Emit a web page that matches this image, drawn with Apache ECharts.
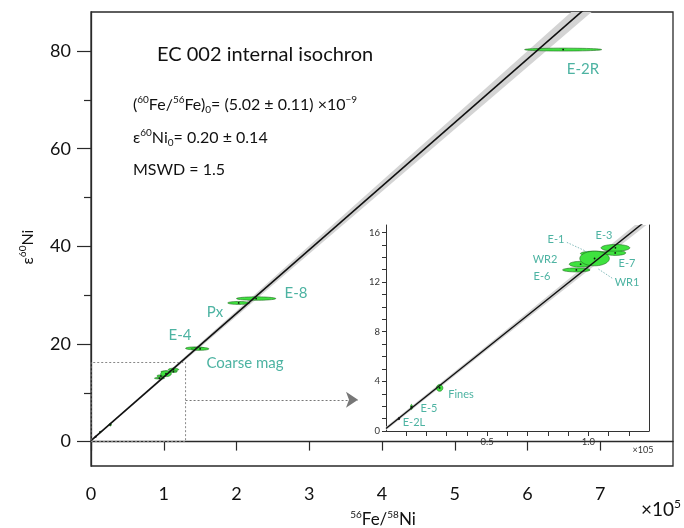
<!DOCTYPE html>
<html><head><meta charset="utf-8">
<script src="https://cdn.jsdelivr.net/npm/echarts@6/dist/echarts.min.js"></script>
<style>html,body{margin:0;padding:0;background:#fff}#c{width:684px;height:528px}</style>
</head><body><div id="c"></div>
<script>
// ---------- data (56Fe/58Ni in units of 1e5, epsilon60Ni) ----------
const sampleNames  = ['E-2R','E-8','Px','E-4','Coarse mag','E-6','WR2','E-1','WR1','E-7','E-3','Fines','E-5','E-2L'];
const fe56ni58     = [6.49, 2.27, 2.03, 1.43, 1.50, 0.941, 0.962, 1.031, 1.031, 1.133, 1.134, 0.265, 0.126, 0.064];
const eps60ni      = [80.3, 29.3, 28.4, 19.1, 19.0, 12.98, 13.44, 14.30, 13.90, 14.35, 14.76, 3.47, 1.94, 1.00];
const fe56ni58Err  = [0.53, 0.27, 0.15, 0.13, 0.12, 0.068, 0.056, 0.070, 0.073, 0.052, 0.071, 0.016, 0.005, 0.003];
const eps60niErr   = [0.30, 0.35, 0.30, 0.30, 0.30, 0.16, 0.23, 0.19, 0.59, 0.20, 0.27, 0.27, 0.20, 0.10];

// isochron fit line and its error envelope
const fitX      = [0, 7.3];
const fitY      = [0.2, 95.32];
const bandX     = [0, 1, 2, 3, 4, 5, 6, 7, 7.5];
const bandLow   = [0.06, 12.93, 25.70, 38.47, 51.23, 64.00, 76.75, 89.51, 95.90];
const bandHigh  = [0.34, 13.53, 26.82, 40.11, 53.41, 66.70, 80.01, 93.31, 99.96];
const insetBandX    = [0, 0.5, 1.0, 1.3];
const insetBandLow  = [0.06, 6.52, 12.93, 16.76];
const insetBandHigh = [0.34, 6.91, 13.53, 17.52];

// zoom box and arrow (data units of main plot)
const boxX = [0, 1.3, 1.3, 0, 0];
const boxY = [0, 0, 16.2, 16.2, 0];
const arrowX = [1.3, 3.67];
const arrowY = [8.57, 8.57];
// leader lines in inset
const leaderE1  = [[0.894, 15.2], [1.0, 14.4]];
const leaderWR1 = [[1.05, 13.05], [1.124, 12.25]];

// ticks
const xTicksMain  = [0, 1, 2, 3, 4, 5, 6, 7];
const yTicksMain  = [0, 20, 40, 60, 80];
const yMinorMain  = [10, 30, 50, 70];
const xTicksInset = [0.1, 0.2, 0.3, 0.4, 0.5, 0.6, 0.7, 0.8, 0.9, 1.0, 1.1, 1.2];
const xLabelsInset = [0.5, 1.0];
const yTicksInset = [0,1,2,3,4,5,6,7,8,9,10,11,12,13,14,15,16];
const yLabelsInset = [0, 4, 8, 12, 16];

// ---------- rendering ----------
const FONT = 'Lato';
const TEAL = '#4db3a2';
const chart = echarts.init(document.getElementById('c'), null, {renderer: 'canvas'});

const pts = sampleNames.map((n, i) => [fe56ni58[i], eps60ni[i], fe56ni58Err[i], eps60niErr[i], n === 'E-2L' ? 1 : 0]);

function ellipseItem(params, api) {
  const c = api.coord([api.value(0), api.value(1)]);
  const s = api.size([api.value(2), api.value(3)]);
  const rx = Math.max(s[0], 0.7), ry = Math.max(s[1], 0.7);
  const black = api.value(4) === 1;
  const poly = [];
  for (let k = 0; k < 48; k++) {
    const a = k / 48 * Math.PI * 2;
    poly.push([c[0] + rx * Math.cos(a), c[1] + ry * Math.sin(a)]);
  }
  return {type: 'group', children: [
    {type: 'polygon', shape: {points: poly},
     style: {fill: black ? '#111' : '#3fe23f', stroke: black ? '#111' : '#1f6a1f', lineWidth: 0.6}},
    {type: 'circle', shape: {cx: c[0], cy: c[1], r: 0.9}, style: {fill: '#111'}}
  ]};
}
function bandItem(xs, lo, hi) {
  return function (params, api) {
    if (params.dataIndex !== 0) return null;
    const p = [];
    for (let i = 0; i < xs.length; i++) p.push(api.coord([xs[i], hi[i]]));
    for (let i = xs.length - 1; i >= 0; i--) p.push(api.coord([xs[i], lo[i]]));
    return {type: 'polygon', shape: {points: p}, style: {fill: '#d4d4d4'}};
  };
}

const axisCol = '#2a2a2a';
const option = {
  animation: false,
  backgroundColor: '#fff',
  grid: [
    {left: 91, top: 12, width: 582, height: 454, show: true, borderColor: axisCol, borderWidth: 1.3, containLabel: false},
    {left: 386, top: 225, width: 263, height: 206, containLabel: false}
  ],
  xAxis: [
    {gridIndex: 0, type: 'value', min: 0, max: 8,
     axisLine: {show: true, lineStyle: {color: axisCol, width: 1.3}},
     axisTick: {show: true, customValues: xTicksMain, length: 9, lineStyle: {color: axisCol, width: 1.2}},
     axisLabel: {customValues: xTicksMain, fontSize: 18, fontFamily: FONT, color: '#111', margin: 19},
     splitLine: {show: false}},
    {gridIndex: 1, type: 'value', min: 0, max: 1.3,
     axisLine: {show: true, lineStyle: {color: '#333', width: 1}},
     axisTick: {show: true, customValues: xTicksInset, length: 5, lineStyle: {color: '#333', width: 1}},
     axisLabel: {customValues: xLabelsInset, formatter: v => v.toFixed(1), fontSize: 9.5, fontFamily: FONT, color: '#333', margin: 6},
     splitLine: {show: false}}
  ],
  yAxis: [
    {gridIndex: 0, type: 'value', min: -5, max: 88, position: 'left',
     axisLine: {show: true, lineStyle: {color: axisCol, width: 1.3}},
     axisTick: {show: true, customValues: yTicksMain, length: 14, lineStyle: {color: axisCol, width: 1.2}},
     axisLabel: {customValues: yTicksMain, fontSize: 18, fontFamily: FONT, color: '#111', margin: 20},
     splitLine: {show: false}},
    {gridIndex: 0, type: 'value', min: -5, max: 88, position: 'left',
     axisLine: {show: false},
     axisTick: {show: true, customValues: yMinorMain, length: 7, lineStyle: {color: axisCol, width: 1.2}},
     axisLabel: {show: false}, splitLine: {show: false}},
    {gridIndex: 1, type: 'value', min: 0, max: 16.6, position: 'left',
     axisLine: {show: true, lineStyle: {color: '#333', width: 1}},
     axisTick: {show: true, customValues: yTicksInset, length: 4, lineStyle: {color: '#333', width: 1}},
     axisLabel: {customValues: yLabelsInset, fontSize: 9.5, fontFamily: FONT, color: '#333', margin: 6},
     splitLine: {show: false}},
    {gridIndex: 1, type: 'value', min: 0, max: 16.6, position: 'right',
     axisLine: {show: true, lineStyle: {color: '#333', width: 1}},
     axisTick: {show: false}, axisLabel: {show: false}, splitLine: {show: false}}
  ],
  series: [
    // main plot
    {type: 'custom', xAxisIndex: 0, yAxisIndex: 0, clip: true, silent: true,
     data: bandX.map((x, i) => [x, bandLow[i], bandHigh[i]]), renderItem: bandItem(bandX, bandLow, bandHigh)},
    {type: 'line', xAxisIndex: 0, yAxisIndex: 0, clip: true, symbol: 'none', silent: true,
     data: fitX.map((x, i) => [x, fitY[i]]), lineStyle: {color: '#111', width: 1.6}},
    {type: 'line', xAxisIndex: 0, yAxisIndex: 0, symbol: 'none', silent: true,
     data: boxX.map((x, i) => [x, boxY[i]]), lineStyle: {color: '#888', width: 1, type: [2, 2]},
     markLine: {silent: true, symbol: ['none', 'arrow'], symbolSize: 12, label: {show: false},
       lineStyle: {color: '#777', width: 1, type: [2, 2]},
       data: [[{coord: [arrowX[0], arrowY[0]]}, {coord: [arrowX[1], arrowY[1]]}]]}},
    {type: 'custom', xAxisIndex: 0, yAxisIndex: 0, clip: true, silent: true, data: pts, renderItem: ellipseItem},
    // inset
    {type: 'custom', xAxisIndex: 1, yAxisIndex: 2, clip: true, silent: true,
     data: insetBandX.map((x, i) => [x, insetBandLow[i], insetBandHigh[i]]), renderItem: bandItem(insetBandX, insetBandLow, insetBandHigh)},
    {type: 'line', xAxisIndex: 1, yAxisIndex: 2, clip: true, symbol: 'none', silent: true,
     data: fitX.map((x, i) => [x, fitY[i]]), lineStyle: {color: '#111', width: 1.4}},
    {type: 'line', xAxisIndex: 1, yAxisIndex: 2, symbol: 'none', silent: true,
     data: leaderE1, lineStyle: {color: '#6aa', width: 0.8, type: [1.5, 1.5]}},
    {type: 'line', xAxisIndex: 1, yAxisIndex: 2, symbol: 'none', silent: true,
     data: leaderWR1, lineStyle: {color: '#6aa', width: 0.8, type: [1.5, 1.5]}},
    {type: 'custom', xAxisIndex: 1, yAxisIndex: 2, clip: true, silent: true, data: pts, renderItem: ellipseItem}
  ],
  graphic: []
};

const supRich = {
  s: {fontSize: 10, fontFamily: FONT, fill: '#111', verticalAlign: 'top', lineHeight: 12},
  b: {fontSize: 10, fontFamily: FONT, fill: '#111', verticalAlign: 'bottom', lineHeight: 12, padding: [6, 0, 0, 0]}
};
function txt(x, y, text, size, color, extra) {
  return Object.assign({type: 'text', x: x, y: y, silent: true, z: 100,
    style: Object.assign({text: text, fontSize: size, fontFamily: FONT, fill: color, align: 'left', verticalAlign: 'middle'}, extra || {})});
}
const g = option.graphic;
g.push(txt(157, 55, 'EC 002 internal isochron', 20, '#111'));
g.push(txt(133, 105, '({s|60}Fe/{s|56}Fe){b|0}= (5.02 ± 0.11) ×10{s|−9}', 16, '#111', {rich: supRich, lineHeight: 20}));
g.push(txt(133, 138, 'ε{s|60}Ni{b|0}= 0.20 ± 0.14', 16, '#111', {rich: supRich, lineHeight: 20}));
g.push(txt(133, 170, 'MSWD = 1.5', 16, '#111'));
// sample labels, main
g.push(txt(583, 69, 'E-2R', 15, TEAL, {align: 'center'}));
g.push(txt(296, 293, 'E-8', 15, TEAL, {align: 'center'}));
g.push(txt(215, 312, 'Px', 15, TEAL, {align: 'center'}));
g.push(txt(180, 335, 'E-4', 15, TEAL, {align: 'center'}));
g.push(txt(245, 363, 'Coarse mag', 15, TEAL, {align: 'center'}));
// inset labels
g.push(txt(556, 239, 'E-1', 11, TEAL, {align: 'center'}));
g.push(txt(604, 235, 'E-3', 11, TEAL, {align: 'center'}));
g.push(txt(545, 259, 'WR2', 11, TEAL, {align: 'center'}));
g.push(txt(542, 276, 'E-6', 11, TEAL, {align: 'center'}));
g.push(txt(627, 263, 'E-7', 11, TEAL, {align: 'center'}));
g.push(txt(627, 282, 'WR1', 11, TEAL, {align: 'center'}));
g.push(txt(461, 394, 'Fines', 11, TEAL, {align: 'center'}));
g.push(txt(429, 408, 'E-5', 11, TEAL, {align: 'center'}));
g.push(txt(414, 422, 'E-2L', 11, TEAL, {align: 'center'}));
g.push(txt(643, 450, '×105', 9, '#333', {align: 'center'}));
// axis titles and multiplier
g.push(txt(641, 510, '×10{s|5}', 19, '#111', {rich: {s: {fontSize: 12, fontFamily: FONT, fill: '#111', verticalAlign: 'top', lineHeight: 14}}, lineHeight: 24}));
g.push(txt(383, 520, '{s|56}Fe/{s|58}Ni', 17, '#111', {align: 'center', rich: supRich, lineHeight: 20}));
g.push(Object.assign(txt(0, 0, 'ε{s|60}Ni', 16, '#111', {align: 'center', rich: supRich, lineHeight: 20}), {x: 28, y: 247, rotation: Math.PI / 2}));

chart.setOption(option);
</script></body></html>
